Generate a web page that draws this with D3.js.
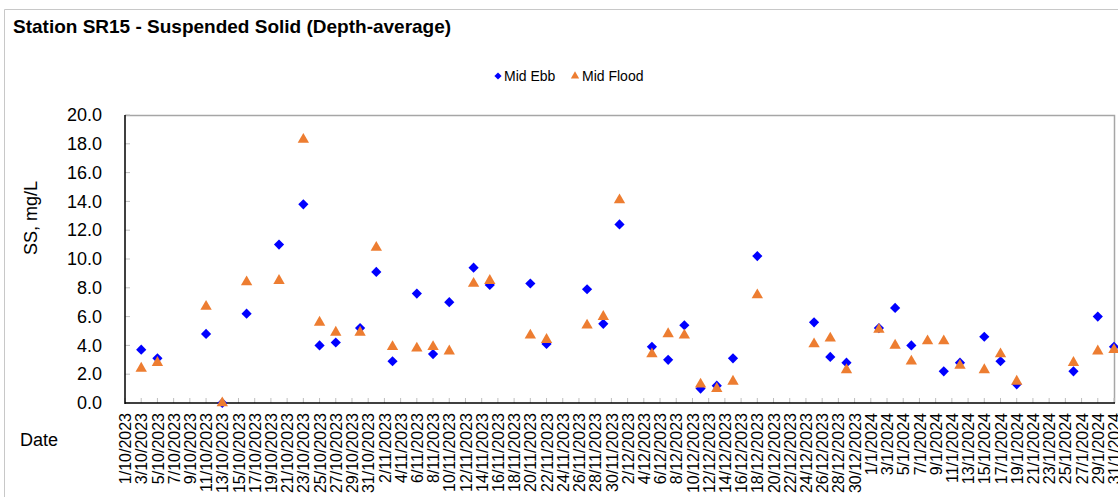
<!DOCTYPE html>
<html>
<head>
<meta charset="utf-8">
<script src="https://cdn.jsdelivr.net/npm/d3@7"></script>
<style>
  html, body { margin: 0; padding: 0; background: #fff; }
  svg { display: block; font-family: "Liberation Sans", Arial, sans-serif; }
</style>
</head>
<body>
<svg id="chart" width="1118" height="497"></svg>
<script>
// ---- Data ----
const title = "Station SR15 - Suspended Solid (Depth-average)";
const yTitle = "SS, mg/L";
const xTitle = "Date";
const seriesNames = ["Mid Ebb", "Mid Flood"];

const dates = ["3/10/2023","5/10/2023","11/10/2023","13/10/2023","16/10/2023","20/10/2023","23/10/2023","25/10/2023","27/10/2023","30/10/2023",
  "1/11/2023","3/11/2023","6/11/2023","8/11/2023","10/11/2023","13/11/2023","15/11/2023","20/11/2023","22/11/2023","27/11/2023","29/11/2023",
  "1/12/2023","5/12/2023","7/12/2023","9/12/2023","11/12/2023","13/12/2023","15/12/2023","18/12/2023","25/12/2023","27/12/2023","29/12/2023",
  "2/1/2024","4/1/2024","6/1/2024","8/1/2024","10/1/2024","12/1/2024","15/1/2024","17/1/2024","19/1/2024","26/1/2024","29/1/2024","31/1/2024"];

const midEbb = [3.7,3.1,4.8,0.0,6.2,11.0,13.8,4.0,4.2,5.2,
  9.1,2.9,7.6,3.4,7.0,9.4,8.2,8.3,4.1,7.9,5.5,
  12.4,3.9,3.0,5.4,1.0,1.2,3.1,10.2,5.6,3.2,2.8,
  5.2,6.6,4.0,null,2.2,2.8,4.6,2.9,1.3,2.2,6.0,3.9];

const midFlood = [2.4,2.8,6.7,0.0,8.4,8.5,18.3,5.6,4.9,4.9,
  10.8,3.9,3.8,3.9,3.6,8.3,8.5,4.7,4.4,5.4,6.0,
  14.1,3.4,4.8,4.7,1.3,1.0,1.5,7.5,4.1,4.5,2.3,
  5.1,4.0,2.9,4.3,4.3,2.6,2.3,3.4,1.5,2.8,3.6,3.7];

const xDomain = ["1/10/2023", "31/1/2024"];
const yTicks = [0,2,4,6,8,10,12,14,16,18,20];

// ---- Helpers ----
const parse = s => { const [d,m,y] = s.split("/").map(Number); return new Date(Date.UTC(y, m-1, d)); };
const fmt = d => `${d.getUTCDate()}/${d.getUTCMonth()+1}/${d.getUTCFullYear()}`;

const svg = d3.select("#chart");
const W = 1118, H = 497;
const m = { left: 125, right: 1114, top: 115, bottom: 403 };

// Outer chart border (cropped at right and bottom)
svg.append("path")
  .attr("d", `M4.5,${H+2}V9.5H${W+2}`)
  .attr("fill", "none").attr("stroke", "#c8c8c8").attr("stroke-width", 1);

// Title
svg.append("text").attr("x", 13).attr("y", 33)
  .attr("font-size", 19).attr("font-weight", "bold").attr("fill", "#000")
  .text(title);

const x = d3.scaleUtc().domain(xDomain.map(parse)).range([m.left, m.right]);
const y = d3.scaleLinear().domain([0, 20]).range([m.bottom, m.top]);

// Plot area border (top & right gray)
svg.append("path")
  .attr("d", `M${m.left},${m.top+0.5}H${m.right+0.5}V${m.bottom}`)
  .attr("fill", "none").attr("stroke", "#a6a6a6").attr("stroke-width", 1.5);

// Y axis
const yAxis = d3.axisLeft(y).tickValues(yTicks).tickFormat(d3.format(".1f")).tickSize(0).tickPadding(23);
const gy = svg.append("g").attr("transform", `translate(${m.left},0)`).call(yAxis);
gy.select(".domain").remove();
gy.selectAll("text").attr("font-size", 18).attr("fill", "#000").attr("font-family", "Liberation Sans, Arial, sans-serif");
svg.append("g").selectAll("line").data(yTicks).join("line")
  .attr("x1", m.left).attr("x2", m.left + 5)
  .attr("y1", d => y(d)).attr("y2", d => y(d))
  .attr("stroke", "#bfbfbf").attr("stroke-width", 1);

// X axis
const xTickVals = d3.utcDay.range(parse(xDomain[0]), d3.utcDay.offset(parse(xDomain[1]), 1), 2);
const xAxis = d3.axisBottom(x).tickValues(xTickVals).tickFormat(fmt).tickSize(0).tickPadding(0);
const gx = svg.append("g").attr("transform", `translate(0,${m.bottom})`).call(xAxis);
gx.select(".domain").remove();
gx.selectAll("text")
  .attr("font-size", 16).attr("fill", "#000").attr("font-family", "Liberation Sans, Arial, sans-serif")
  .attr("text-anchor", "end")
  .attr("transform", "translate(0,10) rotate(-90)")
  .attr("x", 0).attr("y", 0).attr("dy", "0.35em");
svg.append("g").selectAll("line").data(xTickVals).join("line")
  .attr("x1", d => x(d)).attr("x2", d => x(d))
  .attr("y1", m.bottom).attr("y2", m.bottom - 5)
  .attr("stroke", "#bfbfbf").attr("stroke-width", 1);

// Axis lines (black)
svg.append("line").attr("x1", m.left).attr("x2", m.left).attr("y1", m.top).attr("y2", m.bottom + 1)
  .attr("stroke", "#000").attr("stroke-width", 1.5);
svg.append("line").attr("x1", m.left).attr("x2", m.right + 1).attr("y1", m.bottom).attr("y2", m.bottom)
  .attr("stroke", "#000").attr("stroke-width", 1.5);

// Axis titles
svg.append("text").attr("transform", `translate(37,218) rotate(-90)`)
  .attr("text-anchor", "middle").attr("font-size", 18).attr("fill", "#000").text(yTitle);
svg.append("text").attr("x", 20).attr("y", 446)
  .attr("font-size", 18).attr("fill", "#000").text(xTitle);

// Markers
const diamond = d3.symbol().type(d3.symbolSquare).size(52);
const triangle = d3.symbol().type(d3.symbolTriangle).size(56);
const ebbColor = "#0000FF", floodColor = "#ED7D31";

const ebbData = dates.map((d,i) => ({ date: parse(d), v: midEbb[i] })).filter(d => d.v != null);
const floodData = dates.map((d,i) => ({ date: parse(d), v: midFlood[i] })).filter(d => d.v != null);

svg.append("g").selectAll("path").data(ebbData).join("path")
  .attr("d", diamond)
  .attr("transform", d => `translate(${x(d.date)},${y(d.v)}) rotate(45)`)
  .attr("fill", ebbColor);

svg.append("g").selectAll("path").data(floodData).join("path")
  .attr("d", triangle)
  .attr("transform", d => `translate(${x(d.date)},${y(d.v)})`)
  .attr("fill", floodColor);

// Legend
const lg = svg.append("g");
lg.append("path").attr("d", d3.symbol().type(d3.symbolSquare).size(26))
  .attr("transform", "translate(498,76) rotate(45)").attr("fill", ebbColor);
lg.append("text").attr("x", 504).attr("y", 81).attr("font-size", 14).attr("fill", "#000").text(seriesNames[0]);
lg.append("path").attr("d", d3.symbol().type(d3.symbolTriangle).size(30))
  .attr("transform", "translate(575,76)").attr("fill", floodColor);
lg.append("text").attr("x", 582).attr("y", 81).attr("font-size", 14).attr("fill", "#000").text(seriesNames[1]);
</script>
</body>
</html>
